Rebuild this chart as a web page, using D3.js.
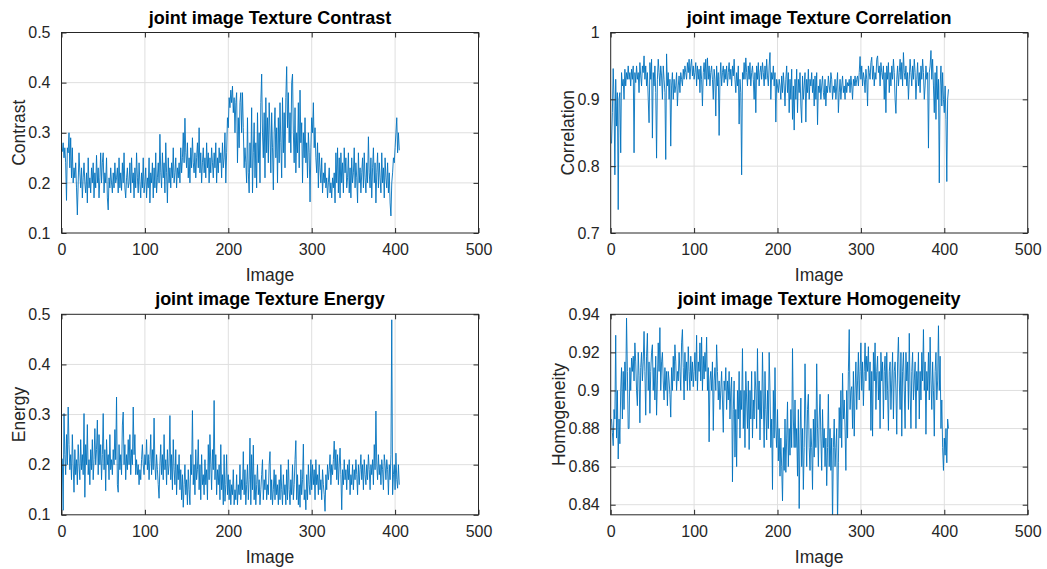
<!DOCTYPE html>
<html>
<head>
<meta charset="utf-8">
<script src="https://cdn.jsdelivr.net/npm/d3@7"></script>
<style>
  body { margin: 0; background: #fff; }
  svg { font-family: "Liberation Sans", Arial, sans-serif; }
</style>
</head>
<body>
<div id="chart"></div>
<script>
// values, one per image (1..405)
var contrast = [
  0.262,0.28,0.25,0.27,0.24,0.165,0.27,0.26,0.30,0.23,0.29,0.21,0.27,0.2,0.23,0.21,0.24,0.19,0.136,0.2,
  0.26,0.22,0.19,0.23,0.17,0.21,0.24,0.2,0.18,0.22,0.16,0.25,0.19,0.21,0.18,0.23,0.2,0.24,0.17,0.22,
  0.19,0.255,0.2,0.23,0.17,0.21,0.26,0.2,0.24,0.26,0.18,0.22,0.2,0.25,0.17,0.146,0.21,0.19,0.23,0.2,
  0.18,0.22,0.19,0.24,0.2,0.21,0.23,0.18,0.25,0.19,0.22,0.185,0.24,0.2,0.26,0.19,0.17,0.21,0.23,0.19,
  0.2,0.24,0.18,0.25,0.2,0.22,0.17,0.23,0.19,0.26,0.21,0.18,0.24,0.2,0.17,0.22,0.19,0.25,0.18,0.2,
  0.23,0.17,0.21,0.19,0.25,0.16,0.22,0.2,0.24,0.17,0.23,0.19,0.26,0.18,0.21,0.24,0.2,0.297,0.22,0.19,
  0.26,0.21,0.24,0.18,0.28,0.22,0.16,0.25,0.2,0.23,0.19,0.24,0.21,0.27,0.2,0.22,0.25,0.19,0.23,0.21,
  0.24,0.2,0.27,0.22,0.25,0.3,0.24,0.329,0.26,0.23,0.28,0.21,0.25,0.2,0.27,0.23,0.29,0.24,0.22,0.26,
  0.21,0.25,0.28,0.23,0.31,0.22,0.26,0.2,0.24,0.27,0.22,0.25,0.21,0.28,0.23,0.26,0.2,0.25,0.22,0.27,
  0.24,0.21,0.26,0.23,0.28,0.2,0.25,0.22,0.27,0.24,0.26,0.21,0.28,0.23,0.25,0.3,0.2,0.26,0.33,0.31,
  0.37,0.35,0.385,0.36,0.393,0.34,0.37,0.3,0.36,0.38,0.24,0.33,0.27,0.36,0.38,0.3,0.38,0.31,0.23,0.27,
  0.24,0.2,0.33,0.22,0.18,0.28,0.23,0.35,0.18,0.26,0.32,0.21,0.28,0.19,0.34,0.24,0.3,0.2,0.36,0.417,
  0.3,0.25,0.34,0.21,0.37,0.26,0.33,0.24,0.36,0.3,0.22,0.34,0.27,0.186,0.3,0.35,0.25,0.31,0.2,0.33,
  0.24,0.36,0.28,0.21,0.37,0.26,0.34,0.23,0.37,0.432,0.31,0.38,0.28,0.34,0.26,0.4,0.417,0.3,0.24,0.35,
  0.22,0.3,0.26,0.36,0.23,0.385,0.28,0.32,0.2,0.3,0.25,0.33,0.24,0.28,0.21,0.3,0.26,0.162,0.27,0.33,
  0.3,0.36,0.27,0.31,0.25,0.22,0.28,0.19,0.26,0.23,0.2,0.25,0.18,0.22,0.2,0.24,0.19,0.21,0.17,0.2,
  0.23,0.18,0.2,0.17,0.21,0.19,0.22,0.16,0.26,0.2,0.27,0.18,0.25,0.17,0.26,0.2,0.24,0.18,0.27,0.22,
  0.25,0.19,0.21,0.26,0.18,0.23,0.17,0.25,0.2,0.22,0.27,0.19,0.24,0.21,0.16,0.26,0.2,0.23,0.18,0.22,
  0.25,0.19,0.26,0.21,0.18,0.24,0.2,0.292,0.22,0.19,0.25,0.17,0.23,0.27,0.2,0.24,0.16,0.22,0.26,0.19,
  0.24,0.21,0.18,0.26,0.2,0.23,0.17,0.25,0.21,0.19,0.24,0.18,0.22,0.16,0.134,0.2,0.22,0.25,0.24,0.27,
  0.3,0.33,0.26,0.3,0.265
];

var correlation = [
  0.834,0.88,0.946,0.9,0.787,0.93,0.86,0.91,0.735,0.9,0.91,0.82,0.94,0.92,0.93,0.9,0.945,0.92,0.94,0.93,
  0.95,0.93,0.94,0.92,0.945,0.93,0.95,0.82,0.94,0.925,0.95,0.93,0.94,0.91,0.955,0.935,0.92,0.95,0.94,0.965,
  0.93,0.95,0.92,0.94,0.9,0.865,0.955,0.93,0.96,0.842,0.94,0.92,0.95,0.91,0.812,0.93,0.96,0.94,0.92,0.95,
  0.935,0.9,0.95,0.93,0.91,0.81,0.968,0.92,0.94,0.9,0.93,0.83,0.92,0.94,0.9,0.93,0.91,0.92,0.94,0.89,
  0.92,0.935,0.91,0.94,0.93,0.92,0.945,0.93,0.95,0.94,0.93,0.955,0.94,0.96,0.93,0.95,0.96,0.935,0.95,0.93,
  0.94,0.955,0.92,0.95,0.93,0.945,0.91,0.95,0.93,0.89,0.94,0.955,0.93,0.96,0.92,0.962,0.93,0.95,0.92,0.94,
  0.95,0.93,0.9,0.945,0.93,0.875,0.95,0.92,0.94,0.846,0.93,0.955,0.92,0.94,0.95,0.925,0.945,0.93,0.95,0.92,
  0.94,0.955,0.93,0.945,0.92,0.95,0.935,0.96,0.93,0.91,0.94,0.92,0.95,0.863,0.93,0.91,0.787,0.94,0.93,0.955,
  0.93,0.962,0.94,0.92,0.95,0.93,0.955,0.92,0.94,0.95,0.93,0.9,0.94,0.88,0.95,0.93,0.955,0.92,0.94,0.95,
  0.93,0.955,0.94,0.92,0.95,0.93,0.96,0.935,0.92,0.95,0.97,0.9,0.94,0.93,0.95,0.92,0.94,0.866,0.93,0.92,
  0.91,0.93,0.92,0.9,0.935,0.91,0.94,0.92,0.89,0.93,0.95,0.91,0.94,0.88,0.93,0.9,0.945,0.87,0.92,0.854,
  0.93,0.9,0.945,0.88,0.93,0.91,0.94,0.89,0.865,0.935,0.9,0.92,0.94,0.866,0.93,0.91,0.945,0.9,0.93,0.92,
  0.94,0.91,0.93,0.89,0.935,0.9,0.94,0.862,0.92,0.91,0.93,0.9,0.92,0.935,0.91,0.9,0.93,0.89,0.92,0.91,
  0.935,0.92,0.91,0.94,0.93,0.9,0.92,0.91,0.93,0.9,0.92,0.94,0.88,0.91,0.93,0.9,0.92,0.935,0.91,0.92,
  0.9,0.93,0.91,0.925,0.92,0.93,0.91,0.935,0.92,0.9,0.93,0.92,0.935,0.92,0.93,0.935,0.92,0.94,0.964,0.93,
  0.95,0.92,0.94,0.93,0.91,0.945,0.93,0.89,0.95,0.94,0.93,0.955,0.963,0.93,0.95,0.92,0.94,0.93,0.96,0.965,
  0.94,0.95,0.92,0.955,0.94,0.93,0.95,0.9,0.94,0.88,0.95,0.93,0.955,0.91,0.94,0.92,0.95,0.93,0.96,0.94,
  0.9,0.879,0.93,0.95,0.92,0.94,0.96,0.93,0.955,0.92,0.97,0.94,0.93,0.95,0.92,0.94,0.9,0.93,0.96,0.94,
  0.92,0.95,0.93,0.96,0.94,0.9,0.93,0.955,0.92,0.94,0.91,0.95,0.93,0.96,0.94,0.9,0.92,0.95,0.93,0.94,
  0.827,0.94,0.95,0.973,0.93,0.96,0.92,0.88,0.94,0.87,0.95,0.9,0.93,0.775,0.92,0.95,0.89,0.94,0.9,0.88,
  0.92,0.87,0.777,0.9,0.915
];

var energy = [
  0.212,0.109,0.302,0.22,0.18,0.26,0.2,0.315,0.24,0.19,0.22,0.17,0.26,0.2,0.145,0.23,0.18,0.21,0.16,0.24,
  0.2,0.17,0.25,0.19,0.22,0.18,0.302,0.135,0.24,0.2,0.28,0.18,0.21,0.16,0.23,0.19,0.25,0.17,0.21,0.272,
  0.2,0.23,0.289,0.18,0.26,0.2,0.24,0.17,0.22,0.302,0.19,0.23,0.148,0.25,0.2,0.22,0.17,0.26,0.19,0.21,
  0.18,0.23,0.2,0.27,0.21,0.335,0.16,0.145,0.24,0.19,0.22,0.18,0.279,0.305,0.2,0.24,0.17,0.22,0.19,0.25,
  0.2,0.26,0.18,0.23,0.2,0.315,0.22,0.26,0.18,0.21,0.18,0.2,0.16,0.19,0.17,0.21,0.24,0.2,0.18,0.22,
  0.2,0.25,0.19,0.22,0.17,0.21,0.26,0.18,0.23,0.19,0.293,0.2,0.17,0.22,0.19,0.16,0.133,0.2,0.24,0.18,
  0.22,0.17,0.26,0.19,0.21,0.16,0.23,0.18,0.2,0.298,0.17,0.22,0.15,0.25,0.19,0.16,0.23,0.14,0.2,0.17,
  0.22,0.15,0.19,0.13,0.18,0.115,0.16,0.2,0.14,0.17,0.12,0.19,0.15,0.12,0.22,0.18,0.308,0.16,0.2,0.14,
  0.23,0.17,0.19,0.25,0.15,0.2,0.13,0.22,0.16,0.18,0.14,0.21,0.16,0.19,0.13,0.24,0.17,0.26,0.2,0.15,
  0.23,0.19,0.328,0.17,0.22,0.14,0.19,0.16,0.2,0.13,0.24,0.15,0.18,0.12,0.22,0.127,0.16,0.22,0.14,0.18,
  0.13,0.17,0.12,0.16,0.14,0.19,0.12,0.15,0.13,0.18,0.12,0.16,0.14,0.2,0.13,0.17,0.15,0.226,0.14,0.19,
  0.12,0.16,0.2,0.13,0.17,0.253,0.12,0.22,0.15,0.239,0.13,0.18,0.12,0.16,0.2,0.14,0.17,0.12,0.15,0.18,
  0.21,0.13,0.17,0.15,0.19,0.13,0.16,0.14,0.2,0.226,0.13,0.17,0.12,0.15,0.19,0.13,0.18,0.14,0.16,0.12,
  0.17,0.13,0.2,0.15,0.12,0.18,0.14,0.16,0.12,0.19,0.13,0.21,0.15,0.12,0.17,0.14,0.2,0.13,0.16,0.21,
  0.248,0.13,0.18,0.12,0.16,0.115,0.19,0.14,0.17,0.241,0.13,0.15,0.11,0.18,0.13,0.2,0.16,0.14,0.21,0.15,
  0.2,0.16,0.19,0.13,0.21,0.16,0.18,0.14,0.2,0.15,0.17,0.13,0.19,0.16,0.14,0.107,0.18,0.15,0.2,0.17,
  0.19,0.22,0.16,0.2,0.18,0.21,0.247,0.19,0.23,0.17,0.22,0.16,0.2,0.233,0.18,0.11,0.19,0.16,0.21,0.17,
  0.19,0.15,0.2,0.17,0.21,0.14,0.18,0.16,0.2,0.15,0.19,0.17,0.21,0.18,0.14,0.2,0.16,0.19,0.22,0.17,
  0.2,0.15,0.21,0.18,0.16,0.2,0.17,0.22,0.19,0.15,0.2,0.18,0.21,0.16,0.24,0.19,0.307,0.2,0.17,0.22,
  0.18,0.2,0.16,0.21,0.19,0.15,0.22,0.2,0.17,0.21,0.19,0.14,0.2,0.17,0.22,0.489,0.14,0.18,0.2,0.15,
  0.223,0.17,0.153,0.2,0.16
];

var homogeneity = [
  0.885,0.878,0.871,0.89,0.885,0.929,0.875,0.9,0.864,0.885,0.872,0.9,0.912,0.885,0.91,0.89,0.915,0.9,0.938,0.91,
  0.88,0.88,0.912,0.9,0.917,0.91,0.918,0.905,0.925,0.915,0.9,0.892,0.92,0.908,0.883,0.912,0.92,0.905,0.915,0.931,
  0.91,0.887,0.918,0.93,0.9,0.915,0.888,0.91,0.92,0.924,0.9,0.912,0.895,0.918,0.887,0.905,0.925,0.91,0.933,0.9,
  0.915,0.92,0.905,0.895,0.912,0.9,0.91,0.892,0.91,0.905,0.898,0.886,0.912,0.9,0.918,0.905,0.924,0.915,0.9,0.91,
  0.905,0.92,0.91,0.9,0.925,0.932,0.912,0.895,0.92,0.905,0.915,0.9,0.923,0.91,0.9,0.918,0.905,0.915,0.902,0.91,
  0.92,0.905,0.929,0.9,0.915,0.91,0.925,0.905,0.928,0.9,0.918,0.906,0.92,0.91,0.928,0.9,0.912,0.873,0.905,0.91,
  0.9,0.915,0.879,0.905,0.912,0.9,0.924,0.91,0.895,0.905,0.89,0.9,0.91,0.895,0.878,0.905,0.9,0.912,0.89,0.905,
  0.895,0.91,0.885,0.9,0.907,0.852,0.89,0.905,0.865,0.89,0.86,0.9,0.885,0.91,0.875,0.9,0.89,0.922,0.88,0.9,
  0.87,0.91,0.895,0.88,0.905,0.869,0.9,0.885,0.91,0.875,0.895,0.885,0.91,0.9,0.88,0.922,0.89,0.905,0.874,0.9,
  0.885,0.92,0.895,0.87,0.91,0.89,0.874,0.9,0.88,0.92,0.9,0.87,0.885,0.848,0.9,0.875,0.912,0.88,0.87,0.89,
  0.863,0.88,0.855,0.875,0.86,0.842,0.87,0.858,0.885,0.857,0.875,0.894,0.86,0.88,0.866,0.89,0.87,0.922,0.885,0.87,
  0.895,0.87,0.88,0.855,0.89,0.838,0.875,0.896,0.86,0.88,0.848,0.87,0.914,0.885,0.86,0.89,0.898,0.87,0.858,0.88,
  0.87,0.848,0.885,0.865,0.89,0.87,0.914,0.88,0.86,0.885,0.898,0.875,0.858,0.89,0.87,0.88,0.86,0.875,0.85,0.87,
  0.898,0.86,0.88,0.858,0.875,0.83,0.87,0.885,0.86,0.87,0.88,0.83,0.862,0.891,0.875,0.9,0.87,0.909,0.885,0.895,
  0.88,0.858,0.9,0.875,0.91,0.932,0.89,0.9,0.902,0.88,0.91,0.876,0.9,0.915,0.89,0.905,0.92,0.895,0.91,0.925,
  0.9,0.915,0.892,0.91,0.925,0.905,0.918,0.91,0.923,0.9,0.915,0.879,0.91,0.876,0.92,0.905,0.925,0.89,0.91,0.918,
  0.895,0.91,0.88,0.92,0.905,0.915,0.885,0.91,0.918,0.895,0.92,0.9,0.879,0.91,0.915,0.89,0.905,0.92,0.885,0.91,
  0.915,0.9,0.877,0.915,0.928,0.905,0.89,0.92,0.876,0.91,0.92,0.9,0.88,0.92,0.905,0.915,0.89,0.93,0.9,0.88,
  0.91,0.92,0.895,0.905,0.915,0.88,0.91,0.9,0.92,0.885,0.91,0.895,0.92,0.905,0.932,0.9,0.915,0.877,0.91,0.9,
  0.92,0.895,0.928,0.905,0.89,0.915,0.9,0.876,0.91,0.92,0.895,0.905,0.934,0.9,0.918,0.88,0.895,0.87,0.858,0.875,
  0.866,0.88,0.862,0.885,0.88
];

var xTicks = [0, 100, 200, 300, 400, 500];
var contrastTicks = [0.1, 0.2, 0.3, 0.4, 0.5];
var correlationTicks = [0.7, 0.8, 0.9, 1];
var energyTicks = [0.1, 0.2, 0.3, 0.4, 0.5];
var homogeneityTicks = [0.84, 0.86, 0.88, 0.9, 0.92, 0.94];

var W = 1047, H = 569;
var svg = d3.select("#chart").append("svg").attr("width", W).attr("height", H);

var panels = [
  {title: "joint image Texture Contrast", ylab: "Contrast", data: contrast, ticks: contrastTicks,
   ylim: [0.1, 0.5], left: 61.5, top: 32.5, ylabX: 35},
  {title: "joint image Texture Correlation", ylab: "Correlation", data: correlation, ticks: correlationTicks,
   ylim: [0.7, 1], left: 610.7, top: 32.5, ylabX: 584},
  {title: "joint image Texture Energy", ylab: "Energy", data: energy, ticks: energyTicks,
   ylim: [0.1, 0.5], left: 61.5, top: 314.3, ylabX: 35},
  {title: "joint image Texture Homogeneity", ylab: "Homogeneity", data: homogeneity, ticks: homogeneityTicks,
   ylim: [0.8347, 0.94], left: 610.7, top: 314.3, ylabX: 575}
];
var pw = 417, ph = 200.5;
var ink = "#262626";

panels.forEach(function(p, i) {
  var g = svg.append("g").attr("transform", "translate(" + p.left + "," + p.top + ")");
  var x = d3.scaleLinear().domain([0, 500]).range([0, pw]);
  var y = d3.scaleLinear().domain(p.ylim).range([ph, 0]);

  // grid
  g.append("g").selectAll("line").data(xTicks.slice(1, -1)).enter().append("line")
    .attr("x1", d => x(d)).attr("x2", d => x(d)).attr("y1", 0).attr("y2", ph)
    .attr("stroke", "#dfdfdf").attr("stroke-width", 1);
  g.append("g").selectAll("line").data(p.ticks.filter(t => y(t) > 0.5 && y(t) < ph - 0.5)).enter().append("line")
    .attr("x1", 0).attr("x2", pw).attr("y1", d => y(d)).attr("y2", d => y(d))
    .attr("stroke", "#dfdfdf").attr("stroke-width", 1);

  // data line
  var clipId = "clip" + i;
  g.append("clipPath").attr("id", clipId).append("rect").attr("width", pw).attr("height", ph);
  var line = d3.line().x((d, j) => x(j + 1)).y(d => y(d));
  g.append("path").datum(p.data)
    .attr("clip-path", "url(#" + clipId + ")")
    .attr("d", line).attr("fill", "none")
    .attr("stroke", "#0072BD").attr("stroke-width", 0.9).attr("stroke-linejoin", "round");

  // axes, ticks pointing inwards
  g.append("g").attr("transform", "translate(0," + ph + ")")
    .call(d3.axisBottom(x).tickValues(xTicks).tickSize(-5).tickPadding(11).tickFormat(d3.format("")));
  g.append("g").call(d3.axisTop(x).tickValues(xTicks).tickSize(-5).tickFormat(""));
  g.append("g")
    .call(d3.axisLeft(y).tickValues(p.ticks).tickSize(-5).tickPadding(11).tickFormat(d => String(d)));
  g.append("g").attr("transform", "translate(" + pw + ",0)")
    .call(d3.axisRight(y).tickValues(p.ticks).tickSize(-5).tickFormat(""));
  g.selectAll(".domain").remove();
  g.selectAll(".tick line").attr("stroke", ink).attr("stroke-width", 1);
  g.selectAll(".tick text").attr("fill", ink).style("font-size", "16px")
    .style("font-family", "'Liberation Sans', Arial, sans-serif");

  g.append("rect").attr("width", pw).attr("height", ph)
    .attr("fill", "none").attr("stroke", ink).attr("stroke-width", 1);

  // labels
  g.append("text").attr("x", pw / 2).attr("y", -9).attr("text-anchor", "middle")
    .style("font-size", "18px").style("font-weight", "bold").attr("fill", "#000").text(p.title);
  g.append("text").attr("x", pw / 2).attr("y", ph + 48).attr("text-anchor", "middle")
    .style("font-size", "17.5px").attr("fill", ink).text("Image");
  svg.append("text")
    .attr("transform", "translate(" + (p.ylabX - 10) + "," + (p.top + ph / 2) + ") rotate(-90)")
    .attr("text-anchor", "middle")
    .style("font-size", "17.5px").attr("fill", ink).text(p.ylab);
});
</script>
</body>
</html>
